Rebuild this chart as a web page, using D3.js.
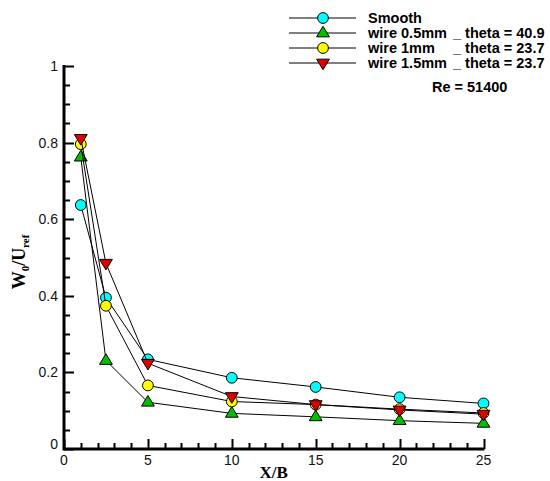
<!DOCTYPE html>
<html>
<head>
<meta charset="utf-8">
<script src="https://cdn.jsdelivr.net/npm/d3@7"></script>
<style>
  body { margin: 0; background: #fff; }
  svg { display: block; }
</style>
</head>
<body>
<svg id="chart" width="550" height="481"></svg>
<script>
const xValues = [1, 2.5, 5, 10, 15, 20, 25];
const smooth   = [0.637, 0.395, 0.234, 0.186, 0.162, 0.135, 0.119];
const wire05   = [0.762, 0.231, 0.122, 0.093, 0.084, 0.074, 0.067];
const wire1    = [0.796, 0.374, 0.166, 0.124, 0.116, 0.104, 0.094];
const wire15   = [0.811, 0.485, 0.224, 0.137, 0.116, 0.102, 0.091];
const seriesNames = ["Smooth", "wire 0.5mm", "wire 1mm", "wire 1.5mm"];
const seriesThetas = ["", "_ theta = 40.9", "_ theta = 23.7", "_ theta = 23.7"];
const seriesColors = ["#00ffff", "#00c000", "#ffff00", "#e00000"];
const seriesSymbols = ["circle", "triangleUp", "circle", "triangleDown"];
const xTicks = [0, 5, 10, 15, 20, 25];
const yTicks = [0, 0.2, 0.4, 0.6, 0.8, 1];
const yTickLabels = ["0", "0.2", "0.4", "0.6", "0.8", "1"];
const annotation = "Re = 51400";

const svg = d3.select("#chart");
const x = d3.scaleLinear().domain([0, 25]).range([64, 483.5]);
const y = d3.scaleLinear().domain([0, 1]).range([449, 66]);

const allSeries = [smooth, wire05, wire1, wire15];

function drawSymbol(g, type, color, cx, cy) {
  if (type === "circle") {
    g.append("circle").attr("cx", cx).attr("cy", cy).attr("r", 5.4)
      .attr("fill", color).attr("stroke", "#000").attr("stroke-width", 1);
  } else {
    const s = 6.4;
    const up = type === "triangleUp";
    const pts = up
      ? [[cx - s, cy + s * 0.6], [cx + s, cy + s * 0.6], [cx, cy - s * 1.05]]
      : [[cx - s, cy - s * 0.6], [cx + s, cy - s * 0.6], [cx, cy + s * 1.05]];
    g.append("polygon").attr("points", pts.map(p => p.join(",")).join(" "))
      .attr("fill", color).attr("stroke", "#000").attr("stroke-width", 1);
  }
}

// Series
const line = d3.line().x((d, i) => x(xValues[i])).y(d => y(d));
allSeries.forEach((vals, si) => {
  const g = svg.append("g");
  g.append("path").attr("d", line(vals)).attr("fill", "none")
    .attr("stroke", "#000").attr("stroke-width", 1);
  vals.forEach((v, i) => drawSymbol(g, seriesSymbols[si], seriesColors[si], x(xValues[i]), y(v)));
});

// Ticks (inward), drawn from the scales
const x0 = x(0), y0 = y(0);
const xMinor = d3.range(0, 26, 1);
const yMinor = d3.range(0, 21, 1).map(i => i * 0.05);
let tickPath = "";
xMinor.forEach(d => {
  const px = Math.round(x(d)) + 0.5;
  tickPath += `M${px},${y0}V${y0 - (d % 5 === 0 ? 10 : 6)}`;
});
yMinor.forEach((d, i) => {
  const py = Math.round(y(d)) + 0.5;
  tickPath += `M${x0},${py}H${x0 + (i % 4 === 0 ? 10 : 6)}`;
});
svg.append("path").attr("d", tickPath).attr("fill", "none")
  .style("stroke", "#000").style("stroke-width", "2px");

// Axis lines
svg.append("path")
  .attr("d", `M${x0},${y(1) - 1}V${y0}H${x(25) + 1}`)
  .attr("fill", "none").style("stroke", "#000").style("stroke-width", "3px");

// Tick labels
const font = "'Liberation Sans', Arial, Helvetica, sans-serif";
svg.append("g").selectAll("text").data(xTicks).join("text")
  .attr("x", d => x(d)).attr("y", 465).attr("text-anchor", "middle")
  .attr("font-family", font).attr("font-size", 14).attr("fill", "#111").text(d => d);
svg.append("g").selectAll("text").data(yTicks).join("text")
  .attr("x", 58).attr("y", d => y(d) + 5 - (d === 0 ? 5 : 0)).attr("text-anchor", "end")
  .attr("font-family", font).attr("font-size", 14).attr("fill", "#111").text((d, i) => yTickLabels[i]);

// Axis titles
const serif = "'Liberation Serif', 'Times New Roman', serif";
svg.append("text").attr("x", x(12.5)).attr("y", 478).attr("text-anchor", "middle")
  .attr("font-family", serif).attr("font-weight", "bold").attr("font-size", 17).text("X/B");

const yt = svg.append("text").attr("transform", "translate(25,262) rotate(-90)")
  .attr("text-anchor", "middle").attr("font-family", serif).attr("font-weight", "bold").attr("font-size", 18);
yt.append("tspan").text("W");
yt.append("tspan").attr("font-size", 11).attr("dy", 4).text("0");
yt.append("tspan").attr("dy", -4).text("/U");
yt.append("tspan").attr("font-size", 11).attr("dy", 4).text("ref");

// Legend
const legRows = [18, 33, 48, 63];
const legend = svg.append("g");
seriesNames.forEach((name, i) => {
  const ly = legRows[i];
  legend.append("line").attr("x1", 289).attr("x2", 356).attr("y1", ly).attr("y2", ly)
    .attr("stroke", "#000").attr("stroke-width", 1);
  drawSymbol(legend, seriesSymbols[i], seriesColors[i], 323, ly);
  const t = legend.append("text").attr("y", ly + 5).attr("font-family", font)
    .attr("font-weight", "bold").attr("font-size", 14.5);
  t.append("tspan").attr("x", 368).text(name);
  if (seriesThetas[i]) t.append("tspan").attr("x", 453).text(seriesThetas[i]);
});
svg.append("text").attr("x", 432).attr("y", 92).attr("font-family", font)
  .attr("font-weight", "bold").attr("font-size", 14.5).text(annotation);
</script>
</body>
</html>
